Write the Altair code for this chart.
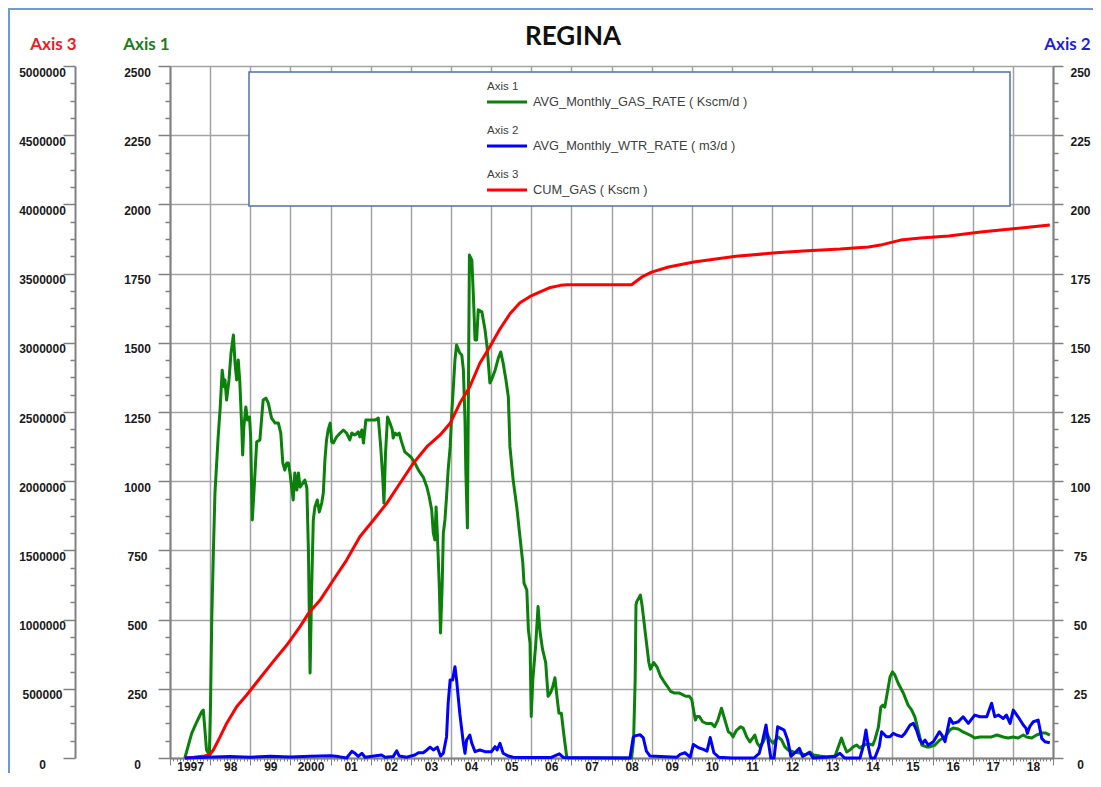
import altair as alt
import pandas as pd

chart_title = "REGINA"
axis_titles = ["Axis 1", "Axis 2", "Axis 3"]
legend_names = ["AVG_Monthly_GAS_RATE ( Kscm/d )", "AVG_Monthly_WTR_RATE ( m3/d )", "CUM_GAS ( Kscm )"]
series_colors = ["#0b800b", "#0000ff", "#ff0000"]
title_colors = ["#1e7b1e", "#1f1fd6", "#ee1c25"]
year_labels = ["1997", "98", "99", "2000", "01", "02", "03", "04", "05", "06", "07",
               "08", "09", "10", "11", "12", "13", "14", "15", "16", "17", "18"]

# Axis 1 : gas rate (Kscm/d)
gas_t = [1997.37, 1997.54, 1997.67, 1997.79, 1997.83, 1997.91, 1997.98, 1998.01, 1998.04, 1998.08,
         1998.12, 1998.20, 1998.25, 1998.30, 1998.35, 1998.37, 1998.41, 1998.47, 1998.52, 1998.58,
         1998.62, 1998.66, 1998.70, 1998.74, 1998.79, 1998.81, 1998.84, 1998.89, 1998.93, 1998.98,
         1999.01, 1999.05, 1999.09, 1999.16, 1999.24, 1999.32, 1999.39, 1999.45, 1999.53, 1999.62,
         1999.70, 1999.76, 1999.81, 1999.86, 1999.91, 1999.95, 1999.99, 2000.03, 2000.07, 2000.11,
         2000.16, 2000.20, 2000.24, 2000.31, 2000.36, 2000.41, 2000.45, 2000.49, 2000.53, 2000.57,
         2000.61, 2000.67, 2000.72, 2000.78, 2000.82, 2000.86, 2000.90, 2000.94, 2000.99, 2001.03,
         2001.07, 2001.15, 2001.24, 2001.32, 2001.40, 2001.48, 2001.53, 2001.61, 2001.69, 2001.73,
         2001.78, 2001.82, 2001.88, 2001.98, 2002.11, 2002.19, 2002.25, 2002.30, 2002.33, 2002.37,
         2002.42, 2002.48, 2002.54, 2002.56, 2002.61, 2002.66, 2002.71, 2002.77, 2002.85, 2002.94,
         2003.02, 2003.10, 2003.19, 2003.31, 2003.40, 2003.46, 2003.52, 2003.56, 2003.60, 2003.63,
         2003.66, 2003.71, 2003.74, 2003.78, 2003.81, 2003.85, 2003.89, 2003.93, 2003.98, 2004.02,
         2004.06, 2004.10, 2004.14, 2004.22, 2004.27, 2004.31, 2004.35, 2004.37, 2004.41, 2004.46,
         2004.52, 2004.56, 2004.60, 2004.64, 2004.68, 2004.77, 2004.85, 2004.90, 2004.97, 2005.01,
         2005.10, 2005.18, 2005.24, 2005.30, 2005.37, 2005.43, 2005.47, 2005.55, 2005.64, 2005.72,
         2005.79, 2005.82, 2005.89, 2005.93, 2005.97, 2006.00, 2006.04, 2006.11, 2006.17, 2006.22,
         2006.28, 2006.36, 2006.42, 2006.48, 2006.54, 2006.59, 2006.65, 2006.69, 2006.75, 2006.82,
         2006.88, 2006.90, 2008.50, 2008.55, 2008.59, 2008.61, 2008.63, 2008.72, 2008.76, 2008.84,
         2008.93, 2008.97, 2009.05, 2009.14, 2009.22, 2009.30, 2009.39, 2009.47, 2009.56, 2009.68,
         2009.77, 2009.85, 2009.94, 2010.00, 2010.05, 2010.09, 2010.13, 2010.19, 2010.27, 2010.36,
         2010.49, 2010.57, 2010.65, 2010.74, 2010.80, 2010.85, 2010.91, 2010.97, 2011.03, 2011.07,
         2011.12, 2011.22, 2011.28, 2011.37, 2011.45, 2011.57, 2011.63, 2011.70, 2011.78, 2011.87,
         2011.95, 2012.03, 2012.15, 2012.24, 2012.32, 2012.40, 2012.53, 2012.69, 2012.82, 2012.94,
         2013.03, 2013.19, 2013.36, 2013.57, 2013.65, 2013.73, 2013.79, 2013.86, 2013.94, 2014.02,
         2014.11, 2014.19, 2014.29, 2014.40, 2014.51, 2014.56, 2014.65, 2014.71, 2014.76, 2014.81,
         2014.87, 2014.94, 2015.00, 2015.06, 2015.14, 2015.27, 2015.39, 2015.48, 2015.56, 2015.64,
         2015.73, 2015.85, 2015.93, 2016.06, 2016.18, 2016.31, 2016.43, 2016.51, 2016.64, 2016.76,
         2016.93, 2017.05, 2017.18, 2017.35, 2017.47, 2017.60, 2017.76, 2017.88, 2018.01, 2018.13,
         2018.26, 2018.34, 2018.47, 2018.59, 2018.72, 2018.82, 2018.92]
gas_v = [0, 89, 131, 167, 173, 29, 11, 198, 498, 740,
         957, 1160, 1264, 1401, 1341, 1366, 1293, 1366, 1463, 1528,
         1427, 1366, 1438, 1358, 1185, 1095, 1196, 1268, 1221, 1232,
         1160, 860, 957, 1142, 1149, 1293, 1300, 1282, 1228, 1210,
         1210, 1174, 1066, 1040, 1066, 1066, 1030, 979, 932, 1030,
         968, 1030, 979, 993, 1004, 975, 740, 307, 618, 860,
         907, 932, 889, 921, 957, 1077, 1149, 1185, 1210, 1142,
         1138, 1160, 1174, 1185, 1174, 1149, 1174, 1167, 1178, 1160,
         1185, 1138, 1221, 1221, 1221, 1228, 1124, 1015, 921, 1102,
         1232, 1210, 1185, 1156, 1174, 1167, 1174, 1142, 1106, 1095,
         1084, 1066, 1040, 1015, 979, 943, 896, 813, 788, 907,
         813, 618, 452, 618, 813, 860, 943, 1040, 1124, 1246,
         1341, 1438, 1492, 1463, 1456, 1401, 1221, 1040, 831, 1817,
         1799, 1666, 1510, 1510, 1619, 1612, 1546, 1485, 1355, 1366,
         1401, 1445, 1467, 1427, 1366, 1304, 1124, 1004, 907, 798,
         705, 632, 607, 462, 415, 150, 284, 406, 547, 455,
         394, 345, 223, 235, 259, 290, 211, 162, 162, 76,
         9, 0, 0, 64, 284, 553, 565, 589, 553, 455,
         345, 321, 345, 327, 296, 278, 259, 241, 235, 235,
         229, 223, 223, 211, 168, 137, 150, 150, 131, 125,
         125, 113, 137, 180, 150, 125, 95, 89, 76, 89,
         101, 113, 108, 76, 58, 83, 54, 40, 58, 90,
         65, 54, 76, 65, 40, 29, 22, 18, 11, 22,
         11, 7, 4, 7, 40, 72, 47, 22, 29, 40,
         47, 36, 47, 51, 47, 65, 112, 184, 191, 184,
         235, 293, 311, 300, 271, 235, 191, 173, 148, 101,
         47, 40, 40, 47, 65, 76, 101, 108, 105, 94,
         83, 72, 76, 76, 76, 83, 76, 72, 76, 72,
         83, 76, 72, 83, 90, 90, 83]

# Axis 2 : water rate (m3/d)
wtr_t = [1997.37, 1997.90, 1998.50, 1999.00, 1999.50, 2000.00, 2000.50, 2001.00, 2001.20, 2001.40,
         2001.53, 2001.61, 2001.69, 2001.78, 2001.86, 2002.27, 2002.36, 2002.56, 2002.65, 2002.71,
         2002.90, 2003.10, 2003.19, 2003.31, 2003.40, 2003.48, 2003.56, 2003.66, 2003.74, 2003.81,
         2003.89, 2003.93, 2003.98, 2004.04, 2004.10, 2004.14, 2004.22, 2004.31, 2004.35, 2004.39,
         2004.47, 2004.52, 2004.60, 2004.72, 2004.85, 2005.01, 2005.10, 2005.15, 2005.22, 2005.30,
         2005.43, 2005.55, 2005.80, 2006.50, 2006.70, 2006.80, 2007.50, 2008.46, 2008.54, 2008.58,
         2008.71, 2008.79, 2008.87, 2008.96, 2009.63, 2009.71, 2009.83, 2009.96, 2010.04, 2010.17,
         2010.29, 2010.38, 2010.46, 2010.55, 2010.67, 2011.00, 2011.22, 2011.55, 2011.68, 2011.76,
         2011.85, 2011.90, 2011.97, 2012.05, 2012.14, 2012.22, 2012.30, 2012.39, 2012.47, 2012.60,
         2012.68, 2012.76, 2012.93, 2013.03, 2013.57, 2013.69, 2013.81, 2014.19, 2014.27, 2014.34,
         2014.40, 2014.46, 2014.56, 2014.67, 2014.73, 2014.85, 2014.94, 2015.02, 2015.10, 2015.23,
         2015.31, 2015.44, 2015.52, 2015.60, 2015.68, 2015.75, 2015.81, 2015.89, 2016.02, 2016.17,
         2016.23, 2016.31, 2016.43, 2016.51, 2016.64, 2016.76, 2016.89, 2017.05, 2017.18, 2017.35,
         2017.47, 2017.55, 2017.64, 2017.76, 2017.84, 2017.93, 2018.01, 2018.13, 2018.26, 2018.33,
         2018.36, 2018.42, 2018.51, 2018.63, 2018.72, 2018.80, 2018.92]
wtr_v = [0, 0.3, 0.5, 0.3, 0.6, 0.4, 0.6, 0.8, 0.5, 0,
         2.4, 1.7, 0.6, 1.7, 0.3, 1.1, 0.3, 0.5, 2.6, 0.7,
         0.3, 1.1, 1.9, 1.9, 2.9, 3.9, 2.9, 3.9, 0.7, 1.7,
         7.7, 19.7, 28.2, 28.2, 33.0, 28.2, 16.1, 5.3, 1.7, 6.5,
         8.3, 5.3, 2.3, 2.9, 2.3, 2.3, 4.1, 2.9, 5.3, 1.7,
         0.7, 0.3, 0.2, 0.2, 1.5, 0.2, 0.1, 0, 7.4, 8.0,
         8.4, 7.4, 2.5, 0.7, 0.3, 1.3, 1.9, 0.3, 4.9, 3.7,
         3.1, 2.5, 7.4, 1.9, 0.3, 0, 0, 0, 1.7, 5.9,
         11.9, 6.5, 0, 0, 11.3, 10.7, 10.1, 6.5, 0.6, 2.3,
         3.5, 0.6, 1.9, 0, 0.5, 1.7, 0, 0, 4.1, 10.1,
         4.1, 0, 0, 4.1, 9.5, 7.7, 7.7, 8.9, 8.3, 7.7,
         8.9, 11.9, 12.5, 10.1, 6.5, 5.3, 6.5, 4.7, 5.9, 9.5,
         8.3, 5.9, 14.3, 12.5, 13.1, 14.9, 12.5, 15.5, 14.9, 14.9,
         19.8, 14.9, 15.5, 14.3, 15.5, 12.5, 17.3, 14.9, 11.9, 10.7,
         8.9, 11.3, 13.1, 13.7, 7.1, 5.9, 5.5]

# Axis 3 : cumulative gas (Kscm)
cum_t = [1997.37, 1997.60, 1997.85, 1997.98, 1998.08, 1998.25, 1998.41, 1998.66, 1998.91, 1999.24,
         1999.57, 1999.91, 2000.24, 2000.45, 2000.74, 2001.07, 2001.40, 2001.73, 2002.07, 2002.40,
         2002.73, 2003.06, 2003.40, 2003.73, 2003.98, 2004.22, 2004.47, 2004.72, 2004.97, 2005.22,
         2005.47, 2005.72, 2005.97, 2006.22, 2006.48, 2006.73, 2006.90, 2008.50, 2008.75, 2009.00,
         2009.42, 2010.05, 2011.10, 2012.10, 2012.77, 2013.70, 2014.40, 2014.70, 2015.20, 2015.70,
         2016.40, 2017.20, 2017.95, 2018.92]
cum_v = [0, 5000, 15000, 22000, 58000, 154000, 250000, 371000, 455000, 576000,
         696000, 816000, 949000, 1045000, 1141000, 1286000, 1430000, 1599000, 1720000, 1840000,
         1985000, 2129000, 2249000, 2334000, 2418000, 2563000, 2683000, 2852000, 2972000, 3100000,
         3210000, 3290000, 3335000, 3368000, 3400000, 3415000, 3419000, 3419000, 3474000, 3511000,
         3548000, 3584000, 3625000, 3650000, 3664000, 3677000, 3692000, 3706000, 3742000, 3757000,
         3771000, 3800000, 3822000, 3851000]

assert len(gas_t) == len(gas_v)
assert len(wtr_t) == len(wtr_v)
assert len(cum_t) == len(cum_v)

W, H = 883, 692
X0, X1 = 1997, 2019
GAS_MAX, WTR_MAX, CUM_MAX = 2500, 250, 5000000

FONT = "Liberation Sans"
TFONT = "Lato"
GRID = "#a3a3a3"
AXC = "#808080"
LABC = "#1a1a1a"


def is_major(step):
    return f"abs(datum.value / {step} - round(datum.value / {step})) < 1e-6"


def y_axis(maxv, orient, offset, title, tcolor, title_x, major_len, label_dist, grid):
    step = maxv / 10
    minor = step / 4
    vals = [i * minor for i in range(41)]
    kw = dict(
        orient=orient, offset=offset, values=vals,
        labelExpr=f"{is_major(step)} ? format(datum.value, 'd') : ''",
        tickSize={"condition": {"test": is_major(step), "value": major_len}, "value": 5},
        tickColor=AXC, tickWidth=1.5,
        domainColor=AXC, domainWidth=2,
        labelFont=FONT, labelFontWeight="bold", labelFontSize=12, labelColor=LABC,
        labelAlign="center", labelBaseline="middle", labelOffset=6,
        labelPadding=label_dist - major_len,
        labelOverlap=False, labelFlush=False,
        title=title, titleAngle=0, titleX=title_x, titleY=-22,
        titleAlign="center", titleBaseline="middle",
        titleFont=TFONT, titleFontWeight="bold", titleFontSize=17, titleColor=tcolor,
        grid=grid,
    )
    if grid:
        kw.update(gridColor=GRID, gridWidth=1.5,
                  gridOpacity={"condition": {"test": is_major(step), "value": 1}, "value": 0})
    return alt.Axis(**kw)


month_vals = [round(X0 + k / 12, 6) for k in range((X1 - X0) * 12 + 1)]
labels_js = "[" + ",".join(f"'{s}'" for s in year_labels) + "]"
year_test = "abs(datum.value - round(datum.value)) < 1e-4"
x_axis = alt.Axis(
    values=month_vals, title=None,
    grid=True, gridColor=GRID, gridWidth=1.5,
    gridOpacity={"condition": {"test": year_test, "value": 1}, "value": 0},
    tickSize={"condition": {"test": year_test, "value": 7}, "value": 3},
    tickColor=AXC, tickWidth=1,
    domainColor=AXC, domainWidth=2,
    labelExpr=f"abs(datum.value - floor(datum.value) - 0.5) < 1e-4 ? {labels_js}[floor(datum.value) - {X0}] : ''",
    labelFont=FONT, labelFontWeight="bold", labelFontSize=12, labelColor=LABC,
    labelPadding=0, labelOverlap=False, labelFlush=False,
    labelAlign="center", labelBaseline="top",
)
x_enc = alt.X("t:Q", scale=alt.Scale(domain=[X0, X1], nice=False, zero=False), axis=x_axis)

gas_df = pd.DataFrame({"t": gas_t, "v": gas_v})
wtr_df = pd.DataFrame({"t": wtr_t, "v": wtr_v})
cum_df = pd.DataFrame({"t": cum_t, "v": cum_v})

gas_layer = alt.Chart(gas_df).mark_line(color=series_colors[0], strokeWidth=3, strokeJoin="round").encode(
    x=x_enc,
    y=alt.Y("v:Q", scale=alt.Scale(domain=[0, GAS_MAX], nice=False),
            axis=y_axis(GAS_MAX, "left", 0, axis_titles[0], title_colors[0], -24, 12, 33, True)),
)
cum_layer = alt.Chart(cum_df).mark_line(color=series_colors[2], strokeWidth=3, strokeJoin="round").encode(
    x=x_enc,
    y=alt.Y("v:Q", scale=alt.Scale(domain=[0, CUM_MAX], nice=False),
            axis=y_axis(CUM_MAX, "left", 95, axis_titles[2], title_colors[2], -22, 12, 33, False)),
)
wtr_layer = alt.Chart(wtr_df).mark_line(color=series_colors[1], strokeWidth=3, strokeJoin="round").encode(
    x=x_enc,
    y=alt.Y("v:Q", scale=alt.Scale(domain=[0, WTR_MAX], nice=False),
            axis=y_axis(WTR_MAX, "right", 0, axis_titles[1], title_colors[1], 14, 10, 27, False)),
)

one = pd.DataFrame({"k": [0]})

frame = alt.Chart(one).mark_rect(filled=False, stroke="#6e9ad3", strokeWidth=2).encode(
    x=alt.value(-161), x2=alt.value(950), y=alt.value(-57), y2=alt.value(760))

title_layer = alt.Chart(pd.DataFrame({"label": [chart_title]})).mark_text(
    font=TFONT, fontSize=26, fontWeight="bold", color="#111111", align="center", baseline="middle"
).encode(x=alt.value(403), y=alt.value(-29), text="label:N")

legend_box = alt.Chart(one).mark_rect(fill="white", stroke="#4f73a8", strokeWidth=1.5).encode(
    x=alt.value(79), x2=alt.value(840), y=alt.value(6), y2=alt.value(140))

legend_layers = []
for i in range(3):
    hy = 21 + 44 * i
    ly = 36 + 44 * i
    legend_layers.append(
        alt.Chart(pd.DataFrame({"label": [axis_titles[i]]})).mark_text(
            font=FONT, fontSize=11.5, color="#404040", align="left", baseline="middle"
        ).encode(x=alt.value(317), y=alt.value(hy), text="label:N"))
    legend_layers.append(
        alt.Chart(one).mark_rule(color=series_colors[i], strokeWidth=3).encode(
            x=alt.value(317), x2=alt.value(357), y=alt.value(ly)))
    legend_layers.append(
        alt.Chart(pd.DataFrame({"label": [legend_names[i]]})).mark_text(
            font=FONT, fontSize=12.8, color="#404040", align="left", baseline="middle"
        ).encode(x=alt.value(363), y=alt.value(ly), text="label:N"))

chart = alt.layer(
    gas_layer, cum_layer, wtr_layer, frame, legend_box, *legend_layers, title_layer
).resolve_scale(y="independent").properties(
    width=W, height=H,
    autosize=alt.AutoSizeParams(type="none"),
    padding={"left": 162, "top": 58, "right": 40, "bottom": 15},
    background="white",
).configure_view(stroke=None)

chart.save("out.html", embed_options={"renderer": "svg", "actions": False})
